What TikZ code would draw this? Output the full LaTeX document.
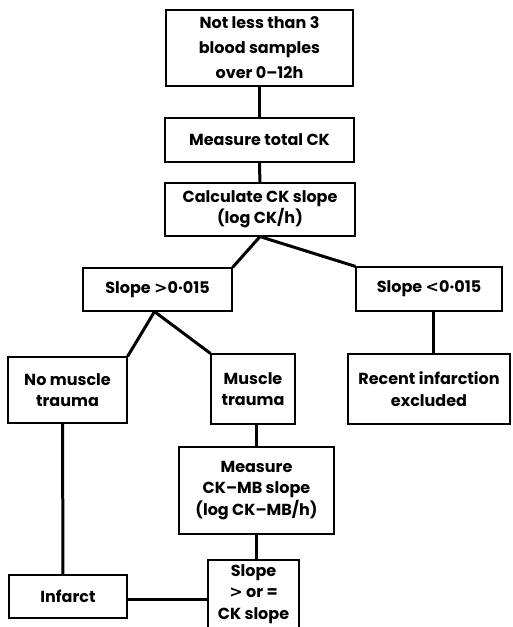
\documentclass[tikz,border=0pt]{standalone}
\usepackage{fontspec}
\setmainfont{Poppins}
\newfontfamily\relfont{DejaVu Sans}
\newcommand{\gtsign}{{\relfont\bfseries >}}
\newcommand{\ltsign}{{\relfont\bfseries <}}
\begin{document}
\begin{tikzpicture}[
    x=1pt, y=-1pt,
    every node/.style={rectangle, draw, line width=1.2pt, inner sep=0pt, align=center, font=\fontsize{16}{21.5}\selectfont\bfseries},
    link/.style={line width=3pt}
    ]
    \clip (0,0) rectangle (513,627);
    \node[minimum width=187pt, minimum height=76pt, font=\fontsize{16}{25}\selectfont\bfseries] (samples) at (259.5,48) {Not less than 3\\blood samples\\over 0–12h};
    \node[minimum width=189pt, minimum height=44pt] (total) at (259.5,140) {Measure total CK};
    \node[minimum width=190pt, minimum height=53pt] (calc) at (260,209.5) {Calculate CK slope\\(log CK/h)};
    \node[minimum width=149pt, minimum height=43pt] (high) at (157.5,289.5) {Slope \gtsign0·015};
    \node[minimum width=146pt, minimum height=44pt] (low) at (429,289) {Slope \ltsign0·015};
    \node[minimum width=119pt, minimum height=66pt] (nomuscle) at (67.5,390) {No muscle\\trauma};
    \node[minimum width=84pt, minimum height=70pt] (muscle) at (253,389) {Muscle\\trauma};
    \node[minimum width=162pt, minimum height=70pt] (recent) at (429,389) {Recent infarction\\excluded};
    \node[minimum width=155pt, minimum height=87pt] (mb) at (256.5,490.5) {Measure\\CK–MB slope\\(log CK–MB/h)};
    \node[minimum width=118pt, minimum height=43pt] (infarct) at (68,596.5) {Infarct};
    \node[minimum width=91pt, minimum height=68pt] (compare) at (253.5,594) {Slope\\\gtsign{} or =\\CK slope};
    \draw[link] (samples) -- (total);
    \draw[link] (total) -- (calc);
    \draw[link] (calc.south) -- (high.north east);
    \draw[link] (calc.south) -- (low.north west);
    \draw[link] ([xshift=-3pt]high.south) -- (nomuscle.north east);
    \draw[link] ([xshift=-3pt]high.south) -- (muscle.north west);
    \draw[link] ([xshift=4pt]low.south) -- ([xshift=4pt]recent.north);
    \draw[link] ([xshift=-5pt]nomuscle.south) -- ([xshift=-5pt]infarct.north);
    \draw[link] (mb.north |- muscle.south) -- (mb.north);
    \draw[link] (mb.south) -- (mb.south |- compare.north);
    \draw[link] ([yshift=-3pt]infarct.east) -- ([yshift=-3pt]infarct.east -| compare.west);
\end{tikzpicture}
\end{document}
